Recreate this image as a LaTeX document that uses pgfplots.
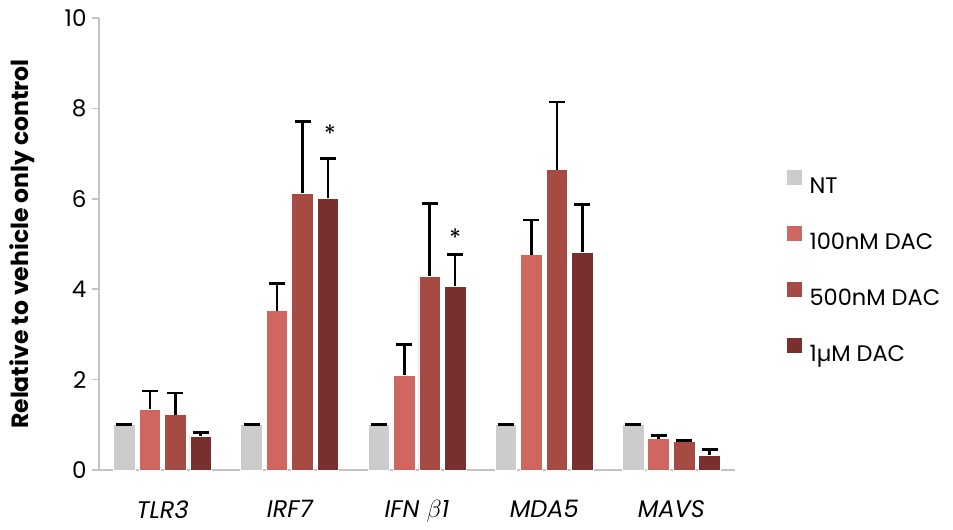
\documentclass[border=0pt]{standalone}
\usepackage{pgfplots}
\usepackage{pgfplotstable}
\pgfplotsset{compat=1.18}
\usepackage{fontspec}
\setmainfont{Poppins}

\definecolor{ntgray}{RGB}{204,204,204}
\definecolor{dacA}{RGB}{208,102,96}
\definecolor{dacB}{RGB}{166,74,68}
\definecolor{dacC}{RGB}{120,47,45}
\definecolor{axisgray}{RGB}{196,196,196}

% columns: category position, mean, upper error
\pgfplotstableread{
x y err
0.5 1.00 0.00
1.5 1.00 0.00
2.5 1.00 0.00
3.5 1.00 0.00
4.5 1.00 0.00
}\tabNT
\pgfplotstableread{
x y err
0.5 1.34 0.41
1.5 3.52 0.60
2.5 2.10 0.67
3.5 4.76 0.77
4.5 0.69 0.07
}\tabA
\pgfplotstableread{
x y err
0.5 1.22 0.48
1.5 6.12 1.59
2.5 4.29 1.60
3.5 6.64 1.50
4.5 0.63 0.02
}\tabB
\pgfplotstableread{
x y err
0.5 0.75 0.08
1.5 6.01 0.88
2.5 4.06 0.71
3.5 4.82 1.06
4.5 0.33 0.13
}\tabC

\pgfplotsset{
  sqlegend/.style={legend image code/.code={%
      \fill[##1,draw=none] (0pt,1pt) rectangle (15pt,16pt);
      \path (20pt,0pt);}},
}

\begin{document}
\begin{tikzpicture}
\begin{axis}[
  scale only axis,
  width=636pt, height=452pt,
  xmin=0, xmax=5, ymin=0, ymax=10,
  axis lines*=left,
  axis line style={axisgray, line width=1.6pt},
  every tick/.style={axisgray, line width=1.6pt},
  tick align=outside,
  major tick length=7pt,
  minor tick length=9pt,
  ytick={0,2,...,10},
  xtick={0.5,1.5,2.5,3.5,4.5},
  xticklabels={TLR3, IRF7, {IFN $\beta$1}, MDA5, MAVS},
  minor xtick={0,1,2,3,4,5},
  xtick style={draw=none},
  minor tick style={axisgray, line width=1.6pt},
  /pgf/number format/assume math mode=true,
  yticklabel style={font=\fontsize{23}{26}\selectfont, xshift=-2pt},
  xticklabel style={font=\itshape\fontsize{24}{28}\selectfont, yshift=-20pt},
  ylabel={\bfseries Relative to vehicle only control},
  ylabel style={font=\fontsize{23.5}{26}\selectfont, at={(axis description cs:-0.121,0.5)}, anchor=center},
  ybar, bar width=0.17,
  legend style={at={(axis description cs:1.077,0.448)}, anchor=west, draw=none, fill=none,
    font=\fontsize{22.5}{26}\selectfont, row sep=29pt, legend cell align=left},
  error bars/error bar style={black, line width=2.6pt},
  error bars/error mark options={black, line width=2.6pt, mark size=8pt, rotate=90},
  clip=false,
]
\addplot[fill=ntgray, draw=white, line width=0.8pt, bar shift=-0.3, sqlegend,
  error bars/.cd, y dir=plus, y explicit]
  table[x=x, y=y, y error=err] {\tabNT};
\addplot[fill=dacA, draw=white, line width=0.8pt, bar shift=-0.1, sqlegend,
  error bars/.cd, y dir=plus, y explicit]
  table[x=x, y=y, y error=err] {\tabA};
\addplot[fill=dacB, draw=white, line width=0.8pt, bar shift=0.1, sqlegend,
  error bars/.cd, y dir=plus, y explicit]
  table[x=x, y=y, y error=err] {\tabB};
\addplot[fill=dacC, draw=white, line width=0.8pt, bar shift=0.3, sqlegend,
  error bars/.cd, y dir=plus, y explicit]
  table[x=x, y=y, y error=err] {\tabC};
\legend{NT, 100nM DAC, 500nM DAC, 1µM DAC}
% significance markers above the 1 µM bars
\node[font=\fontsize{24}{26}\selectfont] at (axis cs:1.815,7.45) {*};
\node[font=\fontsize{24}{26}\selectfont] at (axis cs:2.8,5.13) {*};
\end{axis}
\pgfresetboundingbox
\path[use as bounding box] ([shift={(-99pt,-60pt)}]current axis.south west) rectangle ++(953pt,530pt);
\end{tikzpicture}
\end{document}
